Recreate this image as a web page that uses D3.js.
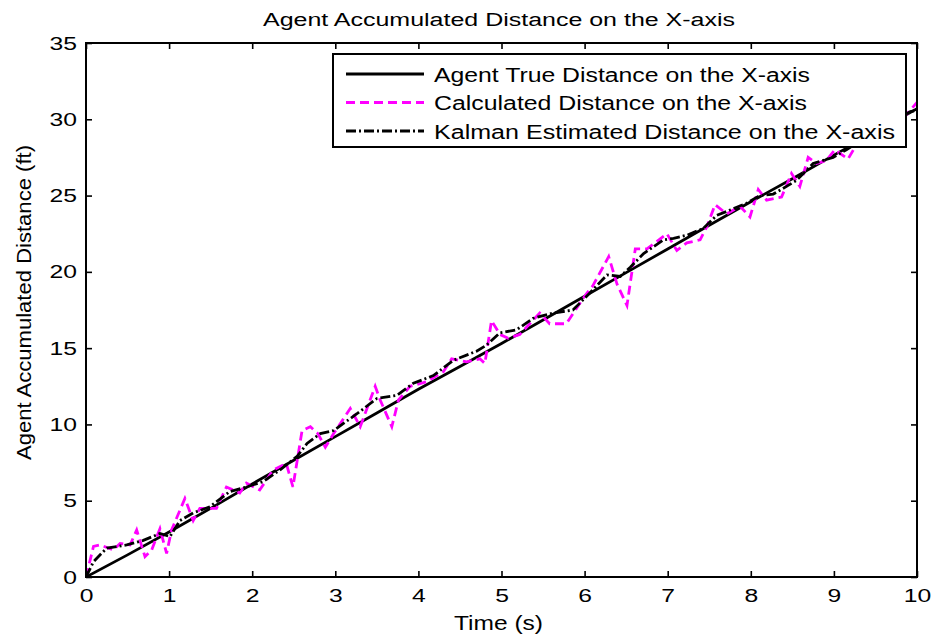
<!DOCTYPE html>
<html><head><meta charset="utf-8">
<script src="https://cdn.jsdelivr.net/npm/d3@7/dist/d3.min.js"></script>
<style>body{margin:0;background:#fff;} text{font-family:"Liberation Sans",Arial,sans-serif;}</style>
</head><body><svg id="c" width="933" height="634"></svg>
<script>
const xTicks = [0,1,2,3,4,5,6,7,8,9,10];
const yTicks = [0,5,10,15,20,25,30,35];
const seriesNames = ["Agent True Distance on the X-axis","Calculated Distance on the X-axis","Kalman Estimated Distance on the X-axis"];

const trueTime = [0,0.5,1,1.5,2,2.5,3,3.5,4,4.5,5,5.5,6,6.5,7,7.5,8,8.5,9,9.5,10];
const trueDist = [0,1.45,2.95,4.5,6.1,7.65,9.2,10.75,12.3,13.8,15.3,16.85,18.4,19.95,21.5,23.05,24.6,26.1,27.65,29.15,30.7];

const calcTime = [0,0.09,0.17,0.33,0.41,0.53,0.61,0.71,0.79,0.89,0.97,1.03,1.19,1.29,1.37,1.57,1.69,1.85,1.93,2.09,2.25,2.41,2.49,2.6,2.7,2.79,2.88,2.98,3.18,3.30,3.48,3.54,3.68,3.76,3.90,4.10,4.30,4.40,4.58,4.74,4.80,4.88,4.98,5.08,5.22,5.46,5.58,5.78,6.0,6.1,6.29,6.39,6.51,6.61,6.75,6.99,7.11,7.23,7.39,7.47,7.57,7.71,7.87,7.99,8.09,8.19,8.37,8.49,8.59,8.69,8.79,8.91,9.01,9.17,9.3,9.45,9.6,9.75,9.87,10];
const calcDist = [0,2.0,2.1,1.77,2.2,2.1,3.08,1.33,1.77,3.17,1.55,3.08,5.15,3.7,4.5,4.5,5.9,5.5,6.15,5.7,7.0,7.45,5.9,9.6,9.85,9.4,8.5,9.4,11.05,9.85,12.5,11.6,9.85,11.6,12.5,12.8,13.45,14.3,14.1,14.3,14.0,16.8,15.9,15.65,15.9,17.3,16.6,16.6,18.4,19.1,21.0,19.2,17.8,21.5,21.5,22.5,21.4,21.9,22.1,22.95,24.4,23.8,24.3,23.6,25.4,24.7,24.9,26.45,25.6,27.5,27.1,27.3,28.0,27.4,28.6,28.9,29.5,29.8,30.3,31.1];

const kalTime = [0,0.09,0.25,0.49,0.69,0.89,1.01,1.13,1.29,1.49,1.73,1.93,2.13,2.33,2.54,2.66,2.82,2.98,3.26,3.50,3.74,3.94,4.18,4.42,4.70,4.82,4.98,5.18,5.38,5.62,5.86,6.06,6.27,6.43,6.55,6.71,6.95,7.07,7.23,7.43,7.59,7.75,7.95,8.11,8.27,8.43,8.55,8.75,8.99,9.15,9.4,9.7,9.92,10];
const kalDist = [0,1.0,1.9,2.1,2.4,2.85,2.65,3.7,4.2,4.6,5.6,5.9,6.25,7.0,7.9,8.75,9.4,9.6,10.7,11.7,11.9,12.7,13.2,14.2,14.8,15.2,16.0,16.2,16.95,17.3,17.5,18.6,19.8,19.7,20.3,21.2,22.1,22.2,22.4,22.85,23.7,24.05,24.5,25.0,25.1,25.6,26.0,27.1,27.5,28.0,28.9,29.8,30.5,30.6];

const svg = d3.select("#c");
const L=86,R=917,T=43,B=577;
const x = d3.scaleLinear().domain([0,10]).range([L,R]);
const y = d3.scaleLinear().domain([0,35]).range([B,T]);

svg.append("defs").append("clipPath").attr("id","pc").append("rect")
  .attr("x",L).attr("y",T).attr("width",R-L).attr("height",B-T);

const lw = 2.8;
const line = d3.line().x(d=>x(d[0])).y(d=>y(d[1]));
const g = svg.append("g").attr("clip-path","url(#pc)");
g.append("path").datum(trueTime.map((t,i)=>[t,trueDist[i]])).attr("d",line)
  .attr("fill","none").attr("stroke","#000").attr("stroke-width",lw);
g.append("path").datum(calcTime.map((t,i)=>[t,calcDist[i]])).attr("d",line)
  .attr("fill","none").attr("stroke","#ff00ff").attr("stroke-width",lw).attr("stroke-dasharray","9,5");
g.append("path").datum(kalTime.map((t,i)=>[t,kalDist[i]])).attr("d",line)
  .attr("fill","none").attr("stroke","#000").attr("stroke-width",lw).attr("stroke-dasharray","10,3,2,3");

// axes
const fs = 19, sx = 1.3;
const ax = svg.append("g").attr("transform",`translate(0,${B})`)
  .call(d3.axisBottom(x).tickValues(xTicks).tickSize(-6).tickPadding(10).tickFormat(d3.format("d")));
const axT = svg.append("g").attr("transform",`translate(0,${T})`)
  .call(d3.axisTop(x).tickValues(xTicks).tickSize(-6).tickFormat(""));
const ay = svg.append("g").attr("transform",`translate(${L},0)`)
  .call(d3.axisLeft(y).tickValues(yTicks).tickSize(-6).tickPadding(9).tickFormat(d3.format("d")));
const ayR = svg.append("g").attr("transform",`translate(${R},0)`)
  .call(d3.axisRight(y).tickValues(yTicks).tickSize(-6).tickFormat(""));
[ax,axT,ay,ayR].forEach(a=>{
  a.select(".domain").remove();
  a.selectAll(".tick line").attr("stroke","#000").attr("stroke-width",1.6);
  a.selectAll(".tick text").attr("fill","#000").style("font-size",fs+"px").style("font-family",'"Liberation Sans",Arial,sans-serif');
});
ax.selectAll(".tick text").attr("y",25.5).attr("dy",null).attr("transform",`scale(${sx},1)`);
ay.selectAll(".tick text").attr("x",-9/sx).attr("transform",`scale(${sx},1)`);
svg.append("rect").attr("x",L).attr("y",T).attr("width",R-L).attr("height",B-T)
  .attr("fill","none").attr("stroke","#000").attr("stroke-width",2);

// titles
svg.append("text").attr("x",263).attr("y",26)
  .style("font-size","18px").attr("textLength",472).attr("lengthAdjust","spacingAndGlyphs")
  .text("Agent Accumulated Distance on the X-axis");
svg.append("text").attr("x",454).attr("y",630)
  .style("font-size","20px").attr("textLength",89).attr("lengthAdjust","spacingAndGlyphs").text("Time (s)");
svg.append("text").attr("transform",`translate(30.5,460) rotate(-90)`)
  .style("font-size","20.5px").attr("textLength",315).attr("lengthAdjust","spacingAndGlyphs").text("Agent Accumulated Distance (ft)");

// legend
const lg = svg.append("g");
lg.append("rect").attr("x",333).attr("y",54).attr("width",573).attr("height",93)
  .attr("fill","#fff").attr("stroke","#000").attr("stroke-width",2);
const styles = [{c:"#000",d:null},{c:"#ff00ff",d:"9,5"},{c:"#000",d:"10,3,2,3"}];
const legLen = [376,373,461];
seriesNames.forEach((n,i)=>{
  const yy = 74 + i*28.5;
  lg.append("line").attr("x1",346).attr("x2",424).attr("y1",yy).attr("y2",yy)
    .attr("stroke",styles[i].c).attr("stroke-width",lw).attr("stroke-dasharray",styles[i].d);
  lg.append("text").attr("x",434).attr("y",yy+7.5).style("font-size","20px")
    .attr("textLength",legLen[i]).attr("lengthAdjust","spacingAndGlyphs").text(n);
});
</script></body></html>
